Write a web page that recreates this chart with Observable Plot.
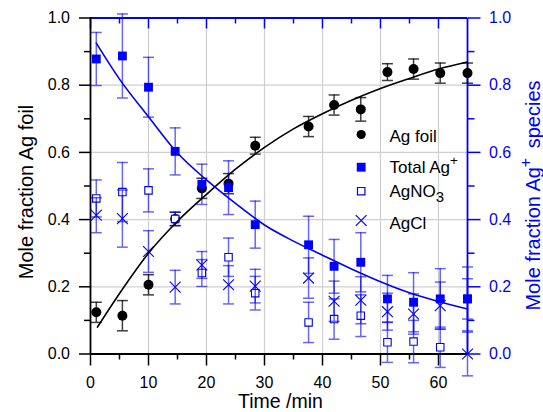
<!DOCTYPE html>
<html>
<head>
<meta charset="utf-8">
<script src="https://cdn.jsdelivr.net/npm/d3@7"></script>
<script src="https://cdn.jsdelivr.net/npm/@observablehq/plot@0.6"></script>
<style>
  html, body { margin: 0; padding: 0; background: white; }
  #chart { position: relative; width: 543px; height: 412px; }
</style>
</head>
<body>
<div id="chart"></div>
<script>
// ---- data ----
const times     = [1, 5.5, 10, 14.6, 19.2, 23.8, 28.4, 37.6, 42, 46.6, 51.2, 55.7, 60.3, 65];
const agFoil    = [0.124, 0.114, 0.206, 0.402, 0.493, 0.507, 0.62, 0.677, 0.741, 0.728, 0.839, 0.848, 0.836, 0.836];
const agFoilErr = [0.03, 0.045, 0.03, 0.02, 0.03, 0.03, 0.025, 0.03, 0.03, 0.035, 0.025, 0.03, 0.03, 0.03];
const totalAg   = [0.878, 0.887, 0.794, 0.603, 0.505, 0.495, 0.385, 0.325, 0.261, 0.273, 0.164, 0.154, 0.164, 0.164];
const totalErr  = [0.079, 0.125, 0.089, 0.07, 0.06, 0.08, 0.07, 0.085, 0.08, 0.088, 0.07, 0.088, 0.09, 0.095];
const agNO3     = [0.463, 0.482, 0.487, 0.402, 0.241, 0.288, 0.181, 0.094, 0.104, 0.114, 0.035, 0.037, 0.02, 0.164];
const agNO3Err  = [0.055, 0.088, 0.064, 0.02, 0.04, 0.057, 0.05, 0.06, 0.06, 0.062, 0.06, 0.063, 0.06, 0.06];
const agCl      = [0.413, 0.403, 0.305, 0.199, 0.265, 0.206, 0.202, 0.226, 0.157, 0.16, 0.126, 0.119, 0.144, 0.0];
const agClErr   = [0.052, 0.085, 0.062, 0.05, 0.04, 0.057, 0.05, 0.06, 0.06, 0.07, 0.055, 0.06, 0.07, 0.065];

// fitted curves
const fitTimes   = [1.2, 5, 10, 15, 20, 25, 30, 35, 40, 45, 50, 55, 60, 65];
const agFoilFit  = [0.08, 0.18, 0.30, 0.395, 0.475, 0.55, 0.615, 0.67, 0.715, 0.755, 0.79, 0.82, 0.848, 0.869];
const totalFitT  = [1, 5, 10, 15, 20, 25, 30, 35, 40, 45, 50, 55, 60, 65];
const totalFit   = [0.925, 0.818, 0.706, 0.598, 0.518, 0.448, 0.384, 0.336, 0.294, 0.253, 0.215, 0.182, 0.156, 0.134];

// ticks
const xMajor = [0, 10, 20, 30, 40, 50, 60];
const xMinor = [5, 15, 25, 35, 45, 55];
const yMajor = [0, 0.2, 0.4, 0.6, 0.8, 1.0];
const yMinor = [0.1, 0.3, 0.5, 0.7, 0.9];
const xGrid  = [10, 20, 30, 40, 50, 60];
const yGrid  = [0.2, 0.4, 0.6, 0.8];

const legendLabels = ["Ag foil", "Total Ag^{+}", "AgNO_{3}", "AgCl"];

// ---- build ----
const rows = times.map((t, i) => ({
  t,
  foil: agFoil[i], foilE: agFoilErr[i],
  tot: totalAg[i], totE: totalErr[i],
  no3: agNO3[i], no3E: agNO3Err[i],
  cl: agCl[i], clE: agClErr[i]
}));
const foilFitRows = fitTimes.map((t, i) => ({t, y: agFoilFit[i]}));
const totFitRows = totalFitT.map((t, i) => ({t, y: totalFit[i]}));

const BLUE = "#0000ff";
const cap = {draw(ctx, size) { const r = Math.sqrt(size / Math.PI); ctx.moveTo(-r, 0); ctx.lineTo(r, 0); }};

function errorMarks(key, ekey, color, opacity) {
  const common = {x: "t", stroke: color, strokeOpacity: opacity, strokeWidth: 1.5};
  return [
    Plot.ruleX(rows, {...common, y1: d => d[key] - d[ekey], y2: d => d[key] + d[ekey]}),
    Plot.dot(rows, {...common, y: d => d[key] + d[ekey], symbol: cap, r: 5.5, fill: "none"}),
    Plot.dot(rows, {...common, y: d => d[key] - d[ekey], symbol: cap, r: 5.5, fill: "none"})
  ];
}

const W = 543, H = 412, ML = 90, MR = 76, MT = 17.5, MB = 58.5;
const PH = H - MT - MB;
const FONT = "'Liberation Sans', Arial, Helvetica, sans-serif";
const fmt1 = d3.format(".1f");

// legend marks
const legendSym = [
  {symbol: "circle", fill: "black", stroke: "none", r: 4.6},
  {symbol: "square", fill: BLUE, stroke: "none", r: 5},
  {symbol: "square", fill: "white", stroke: BLUE, r: 4.2},
  {symbol: "times", fill: "none", stroke: BLUE, r: 5}
];
const legendSymDy = [116.5, 149.2, 173.2, 202.5];
const legendTextDy = [123.5, 154.8, 179.2, 210.8];
const legendMarks = [];
legendLabels.forEach((lab, i) => {
  legendMarks.push(Plot.dot([lab], {frameAnchor: "top-left", dx: 270.7, dy: legendSymDy[i], strokeWidth: 1.2, ...legendSym[i]}));
  legendMarks.push(Plot.text([lab], {frameAnchor: "top-left", dx: 299, dy: legendTextDy[i], text: d => d, textAnchor: "start", lineAnchor: "bottom", fontSize: 17, fill: "black"}));
});

const chart = Plot.plot({
  width: W, height: H,
  marginLeft: ML, marginRight: MR, marginTop: MT, marginBottom: MB,
  x: {domain: [0, 65]},
  y: {domain: [0, 1]},
  style: {fontFamily: FONT, fontSize: "16px", background: "white", color: "black"},
  marks: [
    Plot.gridX(xGrid, {stroke: "#cfcfcf", strokeOpacity: 1, strokeWidth: 1.2}),
    Plot.gridY(yGrid, {stroke: "#cfcfcf", strokeOpacity: 1, strokeWidth: 1.2}),

    // bottom axis
    Plot.axisX({anchor: "bottom", ticks: xMajor, tickSize: 12, tickPadding: 10.5, tickFormat: d => d, strokeWidth: 1.5, label: null, fontSize: 16}),
    Plot.axisX({anchor: "bottom", ticks: xMinor, tickSize: 6, tickFormat: () => "", strokeWidth: 1.5, label: null}),
    // left axis
    Plot.axisY({anchor: "left", ticks: yMajor, tickSize: 11, tickPadding: 9.5, tickFormat: fmt1, strokeWidth: 1.5, label: null, fontSize: 16}),
    Plot.axisY({anchor: "left", ticks: yMinor, tickSize: 6, tickFormat: () => "", strokeWidth: 1.5, label: null}),
    // right axis (blue)
    Plot.axisY({anchor: "right", ticks: yMajor, tickSize: 12.5, tickPadding: 9, tickFormat: fmt1, strokeWidth: 1.5, label: null, color: BLUE, fontSize: 16}),
    Plot.axisY({anchor: "right", ticks: yMinor, tickSize: 6.5, tickFormat: () => "", strokeWidth: 1.5, label: null, color: BLUE}),
    // top axis (blue, inward ticks)
    Plot.tickX(xMajor, {x: d => d, stroke: BLUE, strokeWidth: 1.5, insetBottom: PH - 11}),
    Plot.tickX(xMinor, {x: d => d, stroke: BLUE, strokeWidth: 1.5, insetBottom: PH - 6}),

    // axis lines
    Plot.ruleY([1], {stroke: BLUE, strokeWidth: 1.8}),
    Plot.ruleX([65], {stroke: BLUE, strokeWidth: 1.8}),
    Plot.ruleY([0], {stroke: "black", strokeWidth: 1.8}),
    Plot.ruleX([0], {stroke: "black", strokeWidth: 1.8}),

    // Ag foil
    ...errorMarks("foil", "foilE", "black", 0.75),
    Plot.dot(rows, {x: "t", y: "foil", r: 5, fill: "black", stroke: "none"}),

    // AgNO3 (open squares)
    ...errorMarks("no3", "no3E", BLUE, 0.6),
    Plot.dot(rows, {x: "t", y: "no3", symbol: "square", r: 4.2, fill: "white", stroke: BLUE, strokeWidth: 1.1}),
    // AgCl (times)
    ...errorMarks("cl", "clE", BLUE, 0.6),
    Plot.dot(rows, {x: "t", y: "cl", symbol: "times", r: 5, stroke: BLUE, strokeWidth: 1.1}),
    // Total Ag+
    ...errorMarks("tot", "totE", BLUE, 0.6),
    Plot.dot(rows, {x: "t", y: "tot", symbol: "square", r: 5, fill: BLUE, stroke: "none"}),

    // fits
    Plot.line(foilFitRows, {x: "t", y: "y", curve: "monotone-x", stroke: "black", strokeWidth: 1.6}),
    Plot.line(totFitRows, {x: "t", y: "y", curve: "monotone-x", stroke: BLUE, strokeWidth: 1.6}),

    // legend
    ...legendMarks,

    // axis titles
    Plot.text(["Time /min"], {frameAnchor: "bottom", dx: 1.5, dy: 54, text: d => d, lineAnchor: "bottom", textAnchor: "middle", fontSize: 19.5, fill: "black"}),
    Plot.text(["Mole fraction Ag foil"], {frameAnchor: "left", dx: -58, dy: 6, text: d => d, rotate: -90, lineAnchor: "bottom", textAnchor: "middle", fontSize: 20, fill: "black"}),
    Plot.text(["Mole fraction Ag^{+} species"], {frameAnchor: "right", dx: 72, dy: 9.5, text: d => d, rotate: -90, lineAnchor: "bottom", textAnchor: "middle", fontSize: 20, fill: BLUE})
  ]
});

// rich text: ^{...} superscript, _{...} subscript
const SVGNS = "http://www.w3.org/2000/svg";
chart.querySelectorAll("text").forEach(el => {
  const s = el.textContent;
  if (!/[\^_]\{/.test(s)) return;
  const parts = s.split(/(\^\{[^}]*\}|_\{[^}]*\})/);
  el.textContent = "";
  let afterSup = false;
  for (const p of parts) {
    if (!p) continue;
    const ts = document.createElementNS(SVGNS, "tspan");
    if (p.startsWith("^{")) {
      ts.textContent = p.slice(2, -1);
      ts.setAttribute("baseline-shift", "55%");
      ts.setAttribute("font-size", "80%");
      afterSup = true;
    } else if (p.startsWith("_{")) {
      ts.textContent = p.slice(2, -1);
      ts.setAttribute("baseline-shift", "-35%");
      ts.setAttribute("font-size", "88%");
    } else {
      ts.textContent = p;
      if (afterSup) ts.setAttribute("dx", "4");
      afterSup = false;
    }
    el.appendChild(ts);
  }
});

document.getElementById("chart").appendChild(chart);
</script>
</body>
</html>
